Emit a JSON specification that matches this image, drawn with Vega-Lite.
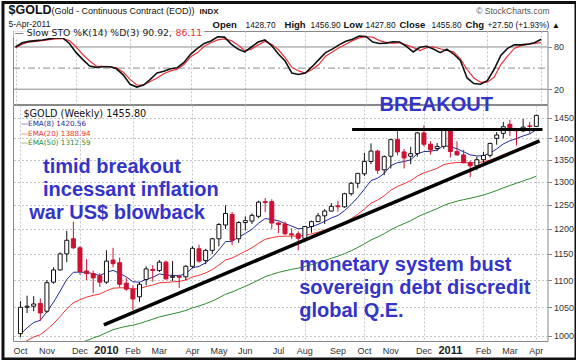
{
"$schema": "https://vega.github.io/schema/vega-lite/v6.json",
"background": "white",
"padding": 0,
"autosize": {"type": "pad"},
"bounds": "flush",
"spacing": 1,
"config": {
  "view": {"stroke": "#888", "strokeWidth": 1},
  "axis": {"labelFont": "Liberation Sans", "labelColor": "#333", "labelFontSize": 9, "title": null}
},
"datasets": {
"w": [
{"d":"2009/10/05","o":1004,"h":1061,"l":998,"c":1050,"k":80,"dv":79,"e8":1003,"e20":985.8,"e50":933.7},
{"d":"2009/10/12","o":1050,"h":1071,"l":1040,"c":1052,"k":86,"dv":84,"e8":1013.9,"e20":992.1,"e50":938.3},
{"d":"2009/10/19","o":1052,"h":1070,"l":1043,"c":1056,"k":88,"dv":87,"e8":1023.3,"e20":998.2,"e50":942.9},
{"d":"2009/10/26","o":1057,"h":1066,"l":1026,"c":1040,"k":89,"dv":88,"e8":1027.0,"e20":1002.2,"e50":946.7},
{"d":"2009/11/02","o":1043,"h":1100,"l":1040,"c":1095,"k":90,"dv":89,"e8":1042.1,"e20":1011.0,"e50":952.5},
{"d":"2009/11/09","o":1096,"h":1124,"l":1093,"c":1119,"k":91.5,"dv":90.5,"e8":1059.2,"e20":1021.3,"e50":959.0},
{"d":"2009/11/16","o":1119,"h":1153,"l":1118,"c":1150,"k":93,"dv":91.5,"e8":1079.4,"e20":1033.6,"e50":966.5},
{"d":"2009/11/23","o":1150,"h":1196,"l":1134,"c":1177,"k":93,"dv":92,"e8":1101.1,"e20":1047.3,"e50":974.8},
{"d":"2009/11/30","o":1180,"h":1215,"l":1160,"c":1162,"k":85,"dv":89,"e8":1114.6,"e20":1058.2,"e50":982.1},
{"d":"2009/12/07","o":1162,"h":1165,"l":1110,"c":1116,"k":72,"dv":80,"e8":1114.9,"e20":1063.7,"e50":987.3},
{"d":"2009/12/14","o":1117,"h":1140,"l":1100,"c":1112,"k":62,"dv":69,"e8":1114.3,"e20":1068.3,"e50":992.2},
{"d":"2009/12/21","o":1112,"h":1118,"l":1076,"c":1104,"k":53,"dv":60,"e8":1112.0,"e20":1071.7,"e50":996.6},
{"d":"2009/12/28","o":1108,"h":1113,"l":1087,"c":1096,"k":51,"dv":53,"e8":1108.4,"e20":1074.0,"e50":1000.5},
{"d":"2010/01/04","o":1096,"h":1157,"l":1093,"c":1136,"k":52,"dv":52.5,"e8":1114.5,"e20":1079.9,"e50":1005.8},
{"d":"2010/01/11","o":1138,"h":1162,"l":1124,"c":1131,"k":52,"dv":52,"e8":1118.2,"e20":1084.8,"e50":1010.7},
{"d":"2010/01/18","o":1133,"h":1143,"l":1086,"c":1092,"k":49,"dv":50.5,"e8":1112.4,"e20":1085.5,"e50":1013.9},
{"d":"2010/01/25","o":1094,"h":1104,"l":1080,"c":1083,"k":40,"dv":44,"e8":1105.9,"e20":1085.3,"e50":1016.6},
{"d":"2010/02/01","o":1083,"h":1090,"l":1045,"c":1065,"k":27,"dv":34,"e8":1096.8,"e20":1083.4,"e50":1018.5},
{"d":"2010/02/08","o":1069,"h":1096,"l":1060,"c":1092,"k":23,"dv":26,"e8":1095.7,"e20":1084.2,"e50":1021.4},
{"d":"2010/02/15","o":1101,"h":1126,"l":1090,"c":1121,"k":26,"dv":26,"e8":1101.3,"e20":1087.7,"e50":1025.3},
{"d":"2010/02/22","o":1120,"h":1128,"l":1097,"c":1118,"k":34,"dv":31,"e8":1105.0,"e20":1090.6,"e50":1028.9},
{"d":"2010/03/01","o":1118,"h":1138,"l":1115,"c":1134,"k":43,"dv":36,"e8":1111.4,"e20":1094.7,"e50":1033.0},
{"d":"2010/03/08","o":1134,"h":1137,"l":1101,"c":1102,"k":45.5,"dv":42,"e8":1109.3,"e20":1095.4,"e50":1035.7},
{"d":"2010/03/15","o":1105,"h":1136,"l":1098,"c":1107,"k":49,"dv":46,"e8":1108.8,"e20":1096.5,"e50":1038.5},
{"d":"2010/03/22","o":1107,"h":1110,"l":1085,"c":1105,"k":50.5,"dv":48.5,"e8":1108.0,"e20":1097.3,"e50":1041.1},
{"d":"2010/03/29","o":1106,"h":1128,"l":1100,"c":1126,"k":58,"dv":55,"e8":1112.0,"e20":1100.0,"e50":1044.4},
{"d":"2010/04/05","o":1126,"h":1165,"l":1122,"c":1161,"k":70,"dv":66,"e8":1122.9,"e20":1105.8,"e50":1049.0},
{"d":"2010/04/12","o":1160,"h":1168,"l":1133,"c":1136,"k":78,"dv":72,"e8":1125.8,"e20":1108.7,"e50":1052.4},
{"d":"2010/04/19","o":1137,"h":1160,"l":1130,"c":1157,"k":85,"dv":81,"e8":1132.7,"e20":1113.3,"e50":1056.5},
{"d":"2010/04/26","o":1157,"h":1182,"l":1150,"c":1180,"k":88.5,"dv":86,"e8":1143.2,"e20":1119.7,"e50":1061.3},
{"d":"2010/05/03","o":1180,"h":1212,"l":1165,"c":1209,"k":94.5,"dv":90,"e8":1157.8,"e20":1128.2,"e50":1067.1},
{"d":"2010/05/10","o":1208,"h":1249,"l":1200,"c":1232,"k":94,"dv":91.5,"e8":1174.3,"e20":1138.1,"e50":1073.6},
{"d":"2010/05/17","o":1230,"h":1235,"l":1167,"c":1177,"k":84,"dv":89,"e8":1174.9,"e20":1141.8,"e50":1077.7},
{"d":"2010/05/24","o":1180,"h":1216,"l":1172,"c":1213,"k":77,"dv":83,"e8":1183.4,"e20":1148.6,"e50":1083.0},
{"d":"2010/05/31","o":1213,"h":1226,"l":1197,"c":1217,"k":73,"dv":75,"e8":1190.9,"e20":1155.1,"e50":1088.3},
{"d":"2010/06/07","o":1216,"h":1232,"l":1210,"c":1228,"k":80,"dv":77,"e8":1199.1,"e20":1162.0,"e50":1093.8},
{"d":"2010/06/14","o":1226,"h":1259,"l":1222,"c":1256,"k":87,"dv":83,"e8":1211.7,"e20":1171.0,"e50":1100.2},
{"d":"2010/06/21","o":1257,"h":1265,"l":1235,"c":1255,"k":90,"dv":88,"e8":1221.3,"e20":1179.0,"e50":1106.3},
{"d":"2010/06/28","o":1257,"h":1262,"l":1200,"c":1212,"k":82,"dv":84,"e8":1219.2,"e20":1182.1,"e50":1110.4},
{"d":"2010/07/05","o":1212,"h":1215,"l":1191,"c":1209,"k":70,"dv":76,"e8":1216.9,"e20":1184.7,"e50":1114.3},
{"d":"2010/07/12","o":1210,"h":1215,"l":1188,"c":1190,"k":60,"dv":65,"e8":1210.9,"e20":1185.2,"e50":1117.3},
{"d":"2010/07/19","o":1190,"h":1201,"l":1180,"c":1188,"k":43,"dv":51,"e8":1205.8,"e20":1185.5,"e50":1120.1},
{"d":"2010/07/26","o":1190,"h":1195,"l":1157,"c":1181,"k":41,"dv":46,"e8":1200.3,"e20":1185.1,"e50":1122.5},
{"d":"2010/08/02","o":1181,"h":1206,"l":1177,"c":1205,"k":43,"dv":43,"e8":1201.3,"e20":1187.0,"e50":1125.7},
{"d":"2010/08/09","o":1205,"h":1217,"l":1192,"c":1215,"k":52,"dv":48,"e8":1204.3,"e20":1189.7,"e50":1129.2},
{"d":"2010/08/16","o":1215,"h":1233,"l":1214,"c":1227,"k":62,"dv":55,"e8":1209.3,"e20":1193.3,"e50":1133.0},
{"d":"2010/08/23","o":1227,"h":1241,"l":1210,"c":1237,"k":72,"dv":67,"e8":1215.5,"e20":1197.5,"e50":1137.1},
{"d":"2010/08/30","o":1237,"h":1254,"l":1236,"c":1247,"k":77,"dv":73,"e8":1222.5,"e20":1202.2,"e50":1141.4},
{"d":"2010/09/06","o":1248,"h":1259,"l":1236,"c":1246,"k":83,"dv":79,"e8":1227.7,"e20":1206.4,"e50":1145.5},
{"d":"2010/09/13","o":1246,"h":1276,"l":1244,"c":1274,"k":88,"dv":84,"e8":1238.0,"e20":1212.8,"e50":1150.5},
{"d":"2010/09/20","o":1274,"h":1300,"l":1270,"c":1297,"k":91,"dv":89,"e8":1251.1,"e20":1220.8,"e50":1156.2},
{"d":"2010/09/27","o":1297,"h":1320,"l":1286,"c":1319,"k":95.5,"dv":93,"e8":1266.2,"e20":1230.2,"e50":1162.6},
{"d":"2010/10/04","o":1318,"h":1366,"l":1313,"c":1346,"k":95,"dv":94.5,"e8":1283.9,"e20":1241.2,"e50":1169.8},
{"d":"2010/10/11","o":1346,"h":1388,"l":1340,"c":1370,"k":87,"dv":94,"e8":1303.0,"e20":1253.5,"e50":1177.6},
{"d":"2010/10/18","o":1370,"h":1373,"l":1318,"c":1326,"k":85,"dv":89,"e8":1308.1,"e20":1260.4,"e50":1183.4},
{"d":"2010/10/25","o":1327,"h":1360,"l":1315,"c":1357,"k":85.5,"dv":86.5,"e8":1319.0,"e20":1269.6,"e50":1190.2},
{"d":"2010/11/01","o":1358,"h":1398,"l":1330,"c":1397,"k":87.5,"dv":85,"e8":1336.3,"e20":1281.7,"e50":1198.3},
{"d":"2010/11/08","o":1397,"h":1424,"l":1360,"c":1368,"k":87,"dv":86,"e8":1343.3,"e20":1289.9,"e50":1205.0},
{"d":"2010/11/15","o":1368,"h":1375,"l":1330,"c":1354,"k":81,"dv":83,"e8":1345.7,"e20":1296.0,"e50":1210.8},
{"d":"2010/11/22","o":1358,"h":1380,"l":1340,"c":1364,"k":73,"dv":79.5,"e8":1349.8,"e20":1302.5,"e50":1216.8},
{"d":"2010/11/29","o":1364,"h":1415,"l":1357,"c":1413,"k":79.5,"dv":75,"e8":1363.8,"e20":1313.0,"e50":1224.5},
{"d":"2010/12/06","o":1413,"h":1431,"l":1381,"c":1386,"k":81,"dv":79,"e8":1368.7,"e20":1320.0,"e50":1230.8},
{"d":"2010/12/13","o":1386,"h":1393,"l":1362,"c":1373,"k":77,"dv":80,"e8":1369.7,"e20":1325.0,"e50":1236.4},
{"d":"2010/12/20","o":1376,"h":1389,"l":1370,"c":1381,"k":72,"dv":77.5,"e8":1372.2,"e20":1330.3,"e50":1242.1},
{"d":"2010/12/27","o":1381,"h":1424,"l":1375,"c":1421,"k":77,"dv":75,"e8":1383.0,"e20":1338.9,"e50":1249.1},
{"d":"2011/01/03","o":1420,"h":1424,"l":1355,"c":1369,"k":70,"dv":73,"e8":1379.9,"e20":1341.8,"e50":1253.8},
{"d":"2011/01/10","o":1369,"h":1393,"l":1360,"c":1361,"k":61,"dv":63,"e8":1375.7,"e20":1343.6,"e50":1258.0},
{"d":"2011/01/17","o":1361,"h":1373,"l":1342,"c":1343,"k":36,"dv":48,"e8":1368.4,"e20":1343.5,"e50":1261.3},
{"d":"2011/01/24","o":1343,"h":1348,"l":1310,"c":1336,"k":28,"dv":36,"e8":1361.2,"e20":1342.8,"e50":1264.2},
{"d":"2011/01/31","o":1336,"h":1357,"l":1326,"c":1350,"k":27,"dv":30,"e8":1358.7,"e20":1343.5,"e50":1267.6},
{"d":"2011/02/07","o":1350,"h":1368,"l":1343,"c":1360,"k":32,"dv":30,"e8":1359.0,"e20":1345.1,"e50":1271.2},
{"d":"2011/02/14","o":1360,"h":1390,"l":1355,"c":1388,"k":48,"dv":37,"e8":1365.4,"e20":1349.2,"e50":1275.8},
{"d":"2011/02/21","o":1400,"h":1415,"l":1385,"c":1408,"k":68,"dv":55,"e8":1374.9,"e20":1354.8,"e50":1281.0},
{"d":"2011/02/28","o":1412,"h":1440,"l":1400,"c":1428,"k":78,"dv":67,"e8":1386.7,"e20":1361.8,"e50":1286.8},
{"d":"2011/03/07","o":1434,"h":1445,"l":1405,"c":1421,"k":83,"dv":78,"e8":1394.3,"e20":1367.4,"e50":1292.1},
{"d":"2011/03/14","o":1421,"h":1425,"l":1383,"c":1418,"k":83,"dv":82,"e8":1399.6,"e20":1372.2,"e50":1297.0},
{"d":"2011/03/21","o":1418,"h":1447,"l":1415,"c":1427,"k":84,"dv":83.5,"e8":1405.7,"e20":1377.4,"e50":1302.1},
{"d":"2011/03/28","o":1430,"h":1440,"l":1410,"c":1428.7,"k":86,"dv":85,"e8":1410.8,"e20":1382.3,"e50":1307.1},
{"d":"2011/04/04","o":1428.7,"h":1456.9,"l":1427.8,"c":1455.8,"k":90.92,"dv":86.11,"e8":1420.56,"e20":1388.94,"e50":1312.59}
],
"months": [
{"t":"Oct","d":"2009/10/05","y":0},{"t":"Nov","d":"2009/11/02","y":0},{"t":"Dec","d":"2009/12/07","y":0},
{"t":"2010","d":"2010/01/04","y":1},{"t":"Feb","d":"2010/02/01","y":0},{"t":"Mar","d":"2010/03/01","y":0},
{"t":"Apr","d":"2010/04/05","y":0},{"t":"May","d":"2010/05/03","y":0},{"t":"Jun","d":"2010/05/31","y":0},
{"t":"Jul","d":"2010/07/05","y":0},{"t":"Aug","d":"2010/08/02","y":0},{"t":"Sep","d":"2010/09/06","y":0},
{"t":"Oct","d":"2010/10/04","y":0},{"t":"Nov","d":"2010/11/01","y":0},{"t":"Dec","d":"2010/12/06","y":0},
{"t":"2011","d":"2011/01/03","y":1},{"t":"Feb","d":"2011/02/07","y":0},{"t":"Mar","d":"2011/03/07","y":0},
{"t":"Apr","d":"2011/04/04","y":0}
]
},
"vconcat": [
{
  "width": 534.5,
  "height": 73,
  "layer": [
    {
      "data": {"values": [{"v": 80}, {"v": 20}]},
      "mark": {"type": "rule", "color": "#8a8a8a", "strokeWidth": 1},
      "encoding": {
        "x": {"datum": {"year": 2009, "month": 10, "date": 2, "hours": 9, "minutes": 36}, "type": "temporal",
              "scale": {"domain": [{"year": 2009, "month": 10, "date": 2, "hours": 9, "minutes": 36}, {"year": 2011, "month": 4, "date": 10, "hours": 12}], "nice": false},
              "axis": {"values": [
                {"year":2009,"month":10,"date":5},{"year":2009,"month":11,"date":2},{"year":2009,"month":12,"date":7},
                {"year":2010,"month":1,"date":4},{"year":2010,"month":2,"date":1},{"year":2010,"month":3,"date":1},
                {"year":2010,"month":4,"date":5},{"year":2010,"month":5,"date":3},{"year":2010,"month":5,"date":31},
                {"year":2010,"month":7,"date":5},{"year":2010,"month":8,"date":2},{"year":2010,"month":9,"date":6},
                {"year":2010,"month":10,"date":4},{"year":2010,"month":11,"date":1},{"year":2010,"month":12,"date":6},
                {"year":2011,"month":1,"date":3},{"year":2011,"month":2,"date":7},{"year":2011,"month":3,"date":7},
                {"year":2011,"month":4,"date":4}],
                "labels": false, "ticks": false, "domain": false, "grid": true, "gridColor": "#c4c4c4", "gridDash": [2, 2]}},
        "x2": {"datum": {"year": 2011, "month": 4, "date": 10, "hours": 12}},
        "y": {"field": "v", "type": "quantitative",
              "scale": {"domain": [-1, 102.7], "nice": false, "zero": false},
              "axis": {"orient": "right", "values": [20, 50, 80], "grid": false, "domain": false, "tickSize": 4, "tickColor": "#888", "labelPadding": 2}}
      }
    },
    {
      "data": {"values": [{"v": 50}]},
      "mark": {"type": "rule", "color": "#8a8a8a", "strokeWidth": 1, "strokeDash": [7, 3, 2, 3]},
      "encoding": {
        "x": {"datum": {"year": 2009, "month": 10, "date": 2, "hours": 9, "minutes": 36}, "type": "temporal"},
        "x2": {"datum": {"year": 2011, "month": 4, "date": 10, "hours": 12}},
        "y": {"field": "v", "type": "quantitative"}
      }
    },
    {
      "data": {"name": "w"},
      "mark": {"type": "line", "color": "#e8333b", "strokeWidth": 1.2},
      "encoding": {"x": {"field": "d", "type": "temporal"}, "y": {"field": "dv", "type": "quantitative"}}
    },
    {
      "data": {"name": "w"},
      "mark": {"type": "line", "color": "#111111", "strokeWidth": 1.6},
      "encoding": {"x": {"field": "d", "type": "temporal"}, "y": {"field": "k", "type": "quantitative"}}
    },
    {
      "data": {"values": [{}]},
      "mark": {"type": "rect", "fill": "white", "stroke": null},
      "encoding": {
        "x": {"datum": {"year": 2009, "month": 10, "date": 3}, "type": "temporal"},
        "x2": {"datum": {"year": 2010, "month": 4, "date": 19, "hours": 7}},
        "y": {"datum": 102.4, "type": "quantitative"},
        "y2": {"datum": 92.8}
      }
    },
    {
      "data": {"values": [{"t": "— Slow STO %K(14) %D(3) 90.92,", "d": "2009/10/03 23:00", "v": 99.2}]},
      "mark": {"type": "text", "align": "left", "baseline": "middle", "font": "DejaVu Sans", "fontSize": 9.3, "color": "#222"},
      "encoding": {"x": {"field": "d", "type": "temporal"}, "y": {"field": "v", "type": "quantitative"}, "text": {"field": "t"}}
    },
    {
      "data": {"values": [{"t": "86.11", "d": "2010/03/20 05:00", "v": 99.2}]},
      "mark": {"type": "text", "align": "left", "baseline": "middle", "font": "DejaVu Sans", "fontSize": 9.3, "color": "#e8333b"},
      "encoding": {"x": {"field": "d", "type": "temporal"}, "y": {"field": "v", "type": "quantitative"}, "text": {"field": "t"}}
    },
    {
      "data": {"values": [{"t": "$GOLD", "d": "2009/09/27 17:30", "v": 126.8}]},
      "mark": {"type": "text", "align": "left", "baseline": "alphabetic", "font": "Liberation Sans", "fontWeight": "bold", "fontSize": 12.5, "color": "#111"},
      "encoding": {"x": {"field": "d", "type": "temporal"}, "y": {"field": "v", "type": "quantitative"}, "text": {"field": "t"}}
    },
    {
      "data": {"values": [{"t": "(Gold - Continuous Contract (EOD))", "d": "2009/11/11 09:36", "v": 126.8}]},
      "mark": {"type": "text", "align": "left", "baseline": "alphabetic", "font": "Liberation Sans", "fontSize": 9, "color": "#111"},
      "encoding": {"x": {"field": "d", "type": "temporal"}, "y": {"field": "v", "type": "quantitative"}, "text": {"field": "t"}}
    },
    {
      "data": {"values": [{"t": "INDX", "d": "2010/04/14 02:24", "v": 126.8}]},
      "mark": {"type": "text", "align": "left", "baseline": "alphabetic", "font": "Liberation Sans", "fontWeight": "bold", "fontSize": 8, "color": "#222"},
      "encoding": {"x": {"field": "d", "type": "temporal"}, "y": {"field": "v", "type": "quantitative"}, "text": {"field": "t"}}
    },
    {
      "data": {"values": [{"t": "© StockCharts.com", "d": "2011/04/12 14:00", "v": 126.8}]},
      "mark": {"type": "text", "align": "right", "baseline": "alphabetic", "font": "Liberation Sans", "fontSize": 8.5, "color": "#555"},
      "encoding": {"x": {"field": "d", "type": "temporal"}, "y": {"field": "v", "type": "quantitative"}, "text": {"field": "t"}}
    },
    {
      "data": {"values": [{"t": "5-Apr-2011", "d": "2009/09/27 17:30", "v": 108.6}]},
      "mark": {"type": "text", "align": "left", "baseline": "alphabetic", "font": "Liberation Sans", "fontSize": 8.5, "color": "#111"},
      "encoding": {"x": {"field": "d", "type": "temporal"}, "y": {"field": "v", "type": "quantitative"}, "text": {"field": "t"}}
    },
    {
      "data": {"values": [
        {"t": "1428.70", "d": "2010/05/31 21:30", "v": 107.4},
        {"t": "1456.90", "d": "2010/08/07 09:36", "v": 107.4},
        {"t": "1427.80", "d": "2010/10/03 12:00", "v": 107.4},
        {"t": "1455.80", "d": "2010/12/11 02:24", "v": 107.4},
        {"t": "+27.50 (+1.93%) ▲", "d": "2011/02/07 04:48", "v": 107.4}
      ]},
      "mark": {"type": "text", "align": "left", "baseline": "alphabetic", "font": "Liberation Sans", "fontSize": 8.3, "color": "#111"},
      "encoding": {"x": {"field": "d", "type": "temporal"}, "y": {"field": "v", "type": "quantitative"}, "text": {"field": "t"}}
    },
    {
      "data": {"values": [
        {"t": "Open", "d": "2010/04/27 14:00", "v": 107.4},
        {"t": "High", "d": "2010/07/11 09:36", "v": 107.4},
        {"t": "Low", "d": "2010/09/10 16:48", "v": 107.4},
        {"t": "Close", "d": "2010/11/07 19:12", "v": 107.4},
        {"t": "Chg", "d": "2011/01/15 09:36", "v": 107.4}
      ]},
      "mark": {"type": "text", "align": "left", "baseline": "alphabetic", "font": "Liberation Sans", "fontWeight": "bold", "fontSize": 9.5, "color": "#111"},
      "encoding": {"x": {"field": "d", "type": "temporal"}, "y": {"field": "v", "type": "quantitative"}, "text": {"field": "t"}}
    },
    {
      "data": {"values": [{}]},
      "mark": {"type": "rect", "filled": false, "stroke": "#111", "strokeWidth": 3},
      "encoding": {
        "x": {"datum": {"year": 2009, "month": 9, "date": 22}, "type": "temporal"},
        "x2": {"datum": {"year": 2011, "month": 5, "date": 10, "hours": 2}},
        "y": {"datum": 143.1, "type": "quantitative"},
        "y2": {"datum": -363.1}
      }
    }
  ]
},
{
  "width": 534.5,
  "height": 236,
  "layer": [
    {
      "data": {"name": "w"},
      "mark": {"type": "line", "color": "#2f8a2f", "strokeWidth": 1, "clip": true},
      "encoding": {
        "x": {"field": "d", "type": "temporal",
              "scale": {"domain": [{"year": 2009, "month": 10, "date": 2, "hours": 9, "minutes": 36}, {"year": 2011, "month": 4, "date": 10, "hours": 12}], "nice": false},
              "axis": {"orient": "bottom", "values": [
                {"year":2009,"month":10,"date":5},{"year":2009,"month":11,"date":2},{"year":2009,"month":12,"date":7},
                {"year":2010,"month":1,"date":4},{"year":2010,"month":2,"date":1},{"year":2010,"month":3,"date":1},
                {"year":2010,"month":4,"date":5},{"year":2010,"month":5,"date":3},{"year":2010,"month":5,"date":31},
                {"year":2010,"month":7,"date":5},{"year":2010,"month":8,"date":2},{"year":2010,"month":9,"date":6},
                {"year":2010,"month":10,"date":4},{"year":2010,"month":11,"date":1},{"year":2010,"month":12,"date":6},
                {"year":2011,"month":1,"date":3},{"year":2011,"month":2,"date":7},{"year":2011,"month":3,"date":7},
                {"year":2011,"month":4,"date":4}],
                "labels": false, "ticks": false, "domain": false, "grid": true, "gridColor": "#c4c4c4", "gridDash": [2, 2]}},
        "y": {"field": "e50", "type": "quantitative",
              "scale": {"type": "log", "domain": [991.5, 1481.8], "nice": false, "zero": false},
              "axis": {"orient": "right", "values": [1000, 1050, 1100, 1150, 1200, 1250, 1300, 1350, 1400, 1450], "format": "d",
                       "grid": true, "gridColor": "#c4c4c4", "gridDash": [2, 2], "domain": false, "tickSize": 4, "tickColor": "#888", "labelPadding": 2}}
      }
    },
    {
      "data": {"name": "w"},
      "mark": {"type": "line", "color": "#ee3333", "strokeWidth": 1, "clip": true},
      "encoding": {"x": {"field": "d", "type": "temporal"}, "y": {"field": "e20", "type": "quantitative"}}
    },
    {
      "data": {"name": "w"},
      "mark": {"type": "line", "color": "#1f2a9a", "strokeWidth": 1, "clip": true},
      "encoding": {"x": {"field": "d", "type": "temporal"}, "y": {"field": "e8", "type": "quantitative"}}
    },
    {
      "data": {"name": "w"},
      "mark": {"type": "rule", "strokeWidth": 1},
      "encoding": {
        "x": {"field": "d", "type": "temporal"},
        "y": {"field": "l", "type": "quantitative"},
        "y2": {"field": "h"},
        "color": {"condition": {"test": "datum.c < datum.o", "value": "#cc1133"}, "value": "#111"}
      }
    },
    {
      "data": {"name": "w"},
      "mark": {"type": "bar", "size": 4, "strokeWidth": 1},
      "encoding": {
        "x": {"field": "d", "type": "temporal"},
        "y": {"field": "o", "type": "quantitative"},
        "y2": {"field": "c"},
        "fill": {"condition": {"test": "datum.c < datum.o", "value": "#cc1133"}, "value": "white"},
        "stroke": {"condition": {"test": "datum.c < datum.o", "value": "#cc1133"}, "value": "#111"}
      }
    },
    {
      "data": {"values": [{"d": "2010/01/01 07:00", "p": 1019}, {"d": "2011/04/07 10:00", "p": 1394}]},
      "mark": {"type": "line", "color": "#000", "strokeWidth": 3.5},
      "encoding": {"x": {"field": "d", "type": "temporal"}, "y": {"field": "p", "type": "quantitative"}}
    },
    {
      "data": {"values": [{"d": "2010/09/21 00:00", "p": 1421}, {"d": "2011/04/10 12:00", "p": 1421}]},
      "mark": {"type": "line", "color": "#000", "strokeWidth": 3},
      "encoding": {"x": {"field": "d", "type": "temporal"}, "y": {"field": "p", "type": "quantitative"}}
    },
    {
      "data": {"values": [{"t": "$GOLD (Weekly) 1455.80", "d": "2009/10/08 02:24", "p": 1459.0}]},
      "mark": {"type": "text", "align": "left", "baseline": "middle", "font": "DejaVu Sans", "fontSize": 9.7, "color": "#111"},
      "encoding": {"x": {"field": "d", "type": "temporal"}, "y": {"field": "p", "type": "quantitative"}, "text": {"field": "t"}}
    },
    {
      "data": {"values": [
        {"t": "—EMA(8) 1420.56", "d": "2009/10/05 12:00", "p": 1433.7},
        {"t": "—EMA(20) 1388.94", "d": "2009/10/05 12:00", "p": 1411.1},
        {"t": "—EMA(50) 1312.59", "d": "2009/10/05 12:00", "p": 1389.6}
      ]},
      "mark": {"type": "text", "align": "left", "baseline": "middle", "font": "DejaVu Sans", "fontSize": 7.2},
      "encoding": {
        "x": {"field": "d", "type": "temporal"},
        "y": {"field": "p", "type": "quantitative"},
        "text": {"field": "t"},
        "color": {"field": "t", "type": "nominal", "legend": null,
                  "scale": {"domain": ["—EMA(8) 1420.56", "—EMA(20) 1388.94", "—EMA(50) 1312.59"], "range": ["#1f2a9a", "#ee3333", "#2f8a2f"]}}
      }
    },
    {
      "data": {"name": "months"},
      "transform": [{"filter": "datum.y == 0"}],
      "mark": {"type": "text", "align": "center", "baseline": "middle", "font": "Liberation Sans", "fontSize": 9, "color": "#333"},
      "encoding": {"x": {"field": "d", "type": "temporal"}, "y": {"datum": 974.8, "type": "quantitative"}, "text": {"field": "t"}}
    },
    {
      "data": {"name": "months"},
      "transform": [{"filter": "datum.y == 1"}],
      "mark": {"type": "text", "align": "center", "baseline": "middle", "font": "Liberation Sans", "fontWeight": "bold", "fontSize": 11, "color": "#222"},
      "encoding": {"x": {"field": "d", "type": "temporal"}, "y": {"datum": 974.8, "type": "quantitative"}, "text": {"field": "t"}}
    },
    {
      "data": {"values": [
        {"t": "timid breakout", "d": "2009/10/28 21:36", "p": 1319.8},
        {"t": "incessant inflation", "d": "2009/10/28 21:36", "p": 1268.9},
        {"t": "war US$ blowback", "d": "2009/10/14 08:00", "p": 1220.0},
        {"t": "BREAKOUT", "d": "2010/10/20 02:24", "p": 1466.6},
        {"t": "monetary system bust", "d": "2010/07/27 00:00", "p": 1117.0},
        {"t": "sovereign debt discredit", "d": "2010/07/27 00:00", "p": 1074.1},
        {"t": "global Q.E.", "d": "2010/07/27 00:00", "p": 1032.9}
      ]},
      "mark": {"type": "text", "align": "left", "baseline": "alphabetic", "font": "Liberation Sans", "fontWeight": "bold", "fontSize": 20, "color": "#3434c8"},
      "encoding": {"x": {"field": "d", "type": "temporal"}, "y": {"field": "p", "type": "quantitative"}, "text": {"field": "t"}}
    }
  ]
}
]
}
